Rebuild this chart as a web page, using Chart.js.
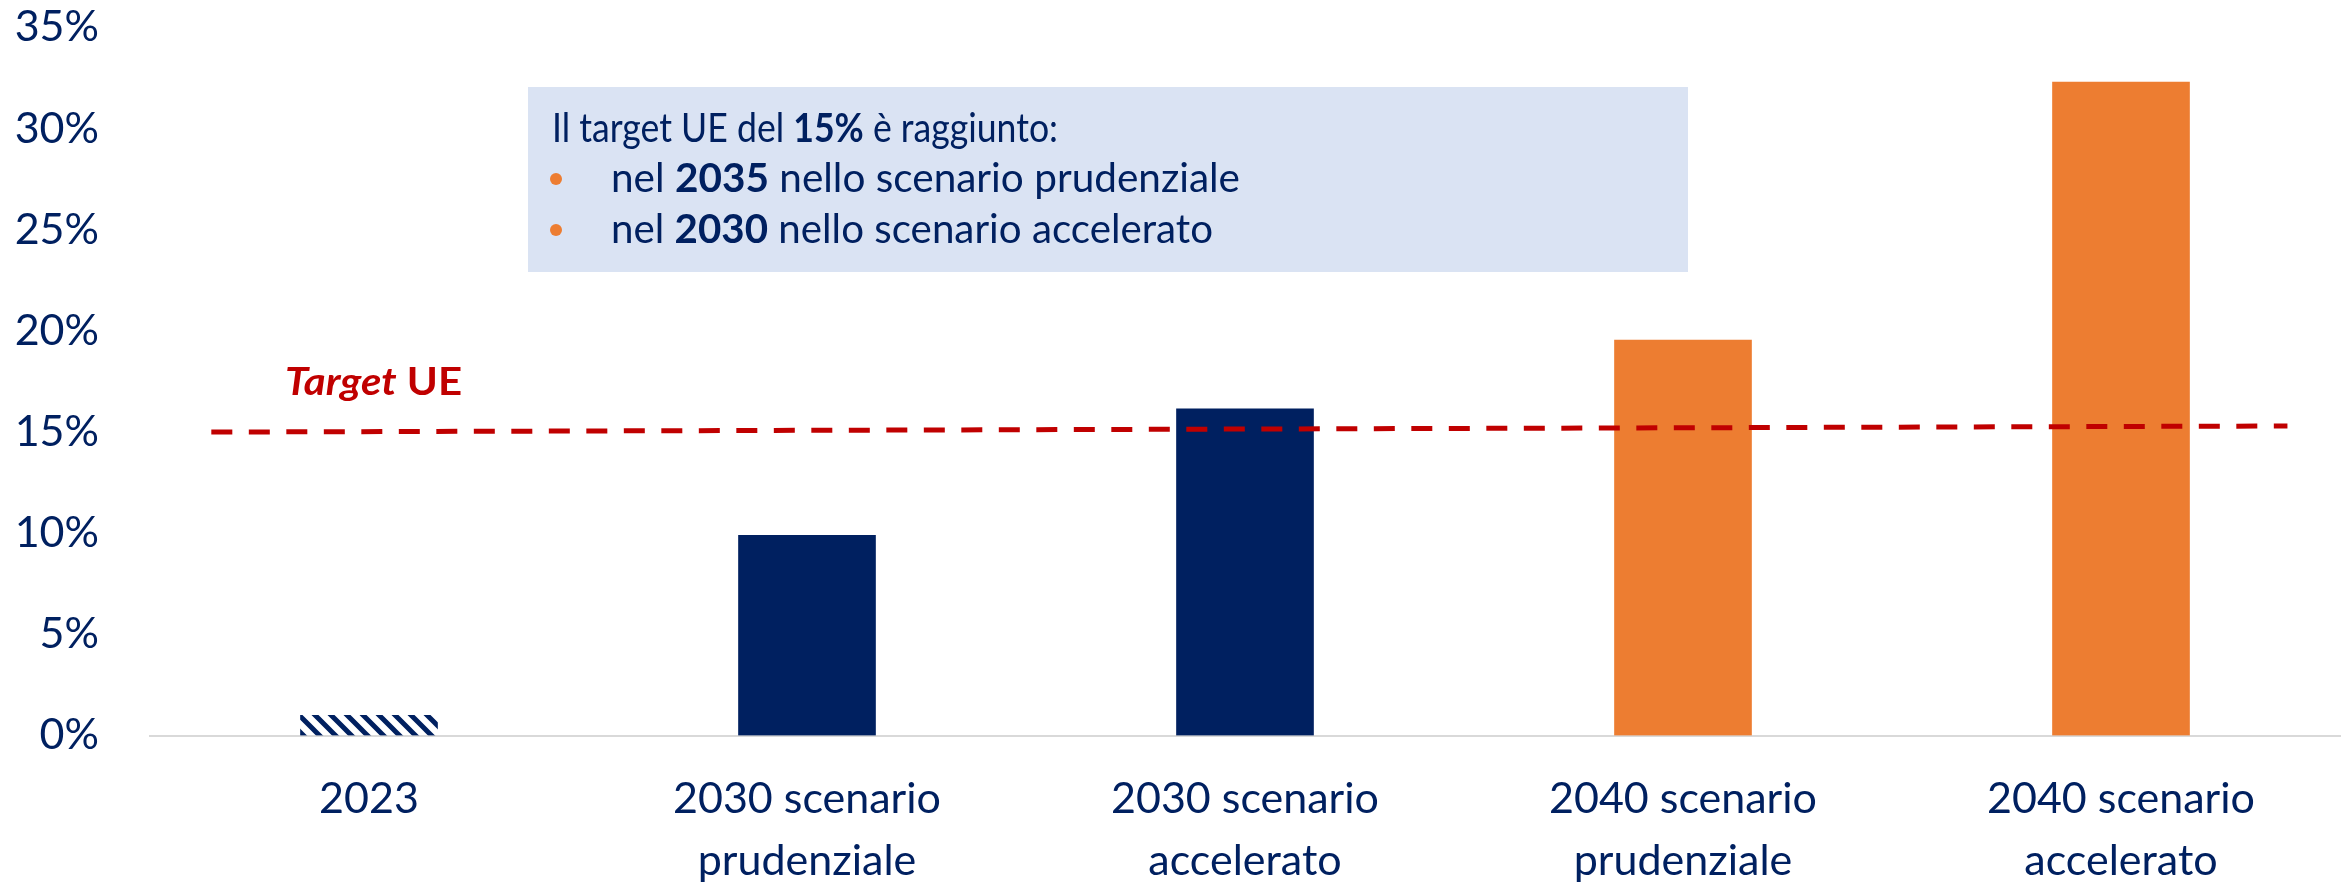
<!DOCTYPE html>
<html>
<head>
<meta charset="utf-8">
<script src="https://cdn.jsdelivr.net/npm/chart.js@4.4.1/dist/chart.umd.min.js"></script>
<style>
  body { margin: 0; background: #fff; }
  canvas { display: block; }
</style>
</head>
<body>
<canvas id="myChart" width="2346" height="885"></canvas>
<script>
// categories and values
const categories = [
  ['2023'],
  ['2030 scenario', 'prudenziale'],
  ['2030 scenario', 'accelerato'],
  ['2040 scenario', 'prudenziale'],
  ['2040 scenario', 'accelerato']
];
const shareValues = [1.0, 9.9, 16.15, 19.55, 32.3];
const barColors = ['hatch', '#002060', '#002060', '#ED7D31', '#ED7D31'];

// dashed EU target line (x in category units)
const targetPos = [-0.36, 4.38];
const targetValues = [15.0, 15.3];

const navy = '#002060';
const red = '#C00000';
const orange = '#ED7D31';
const fontFamily = 'Lato, "Open Sans", sans-serif';

function makeHatch(ctx) {
  const c = document.createElement('canvas');
  c.width = 16; c.height = 16;
  const g = c.getContext('2d');
  g.strokeStyle = navy;
  g.lineWidth = 5;
  g.beginPath();
  for (let k = -16; k <= 16; k += 16) {
    g.moveTo(k - 4, -4);
    g.lineTo(k + 20, 20);
  }
  g.stroke();
  return ctx.createPattern(c, 'repeat');
}

function runFont(r, size) {
  return (r.italic ? 'italic ' : '') + (r.bold ? 'bold ' : '') + size + 'px ' + fontFamily;
}

// draw a line made of plain / bold / italic pieces, squeezed to a given width
function drawRuns(ctx, runs, x, y, size, width) {
  let total = 0;
  runs.forEach(r => {
    ctx.font = runFont(r, size);
    total += ctx.measureText(r.text).width;
  });
  const sx = width ? width / total : 1;
  ctx.save();
  ctx.translate(x, y);
  ctx.scale(sx, 1);
  let cx = 0;
  runs.forEach(r => {
    ctx.font = runFont(r, size);
    ctx.fillText(r.text, cx, 0);
    cx += ctx.measureText(r.text).width;
  });
  ctx.restore();
}

const notePlugin = {
  id: 'notes',
  afterDraw(chart) {
    const ctx = chart.ctx;
    const yScale = chart.scales.y;
    ctx.save();
    ctx.textBaseline = 'alphabetic';
    ctx.textAlign = 'left';

    // text box
    ctx.fillStyle = '#DAE3F3';
    ctx.fillRect(528, 87, 1160, 185);
    ctx.fillStyle = navy;
    drawRuns(ctx, [{text: 'Il target UE del '}, {text: '15%', bold: true}, {text: ' è raggiunto:'}], 552, 142, 40, 506);
    drawRuns(ctx, [{text: 'nel '}, {text: '2035', bold: true}, {text: ' nello scenario prudenziale'}], 611, 192, 40, 629);
    drawRuns(ctx, [{text: 'nel '}, {text: '2030', bold: true}, {text: ' nello scenario accelerato'}], 611, 243, 40, 602);
    ctx.fillStyle = orange;
    [179, 230].forEach(by => {
      ctx.beginPath();
      ctx.arc(556, by, 6, 0, Math.PI * 2);
      ctx.fill();
    });

    // target label
    ctx.fillStyle = red;
    const ty = yScale.getPixelForValue(targetValues[0]) - 37;
    drawRuns(ctx, [{text: 'Target', bold: true, italic: true}, {text: ' UE', bold: true}], 285, ty, 39, 177);
    ctx.restore();
  }
};

const canvas = document.getElementById('myChart');
const ctx = canvas.getContext('2d');
const hatch = makeHatch(ctx);

const myChart = new Chart(ctx, {
  data: {
    labels: categories,
    datasets: [{
      type: 'line',
      label: 'Target UE',
      xAxisID: 'xt',
      data: targetPos.map((x, i) => ({x: x, y: targetValues[i]})),
      borderColor: red,
      borderWidth: 5,
      borderDash: [21, 16.5],
      pointRadius: 0,
      fill: false,
      order: 0
    }, {
      type: 'bar',
      label: 'Quota',
      data: shareValues,
      backgroundColor: barColors.map(c => c === 'hatch' ? hatch : c),
      borderWidth: 0,
      barThickness: 137,
      grouped: false,
      order: 1
    }]
  },
  options: {
    responsive: false,
    devicePixelRatio: 1,
    animation: false,
    layout: { padding: { left: 10, right: 6, top: 0, bottom: 0 } },
    plugins: { legend: { display: false }, tooltip: { enabled: false } },
    scales: {
      x: {
        type: 'category',
        grid: { display: false },
        border: { display: true, color: '#D9D9D9', width: 2 },
        ticks: {
          color: navy,
          font: { family: fontFamily, size: 43, lineHeight: 1.44 },
          padding: 25,
          maxRotation: 0,
          autoSkip: false
        },
        afterFit: s => { s.height = 149.5; }
      },
      xt: {
        type: 'linear',
        display: false,
        min: -0.5,
        max: 4.5
      },
      y: {
        min: 0,
        max: 35,
        grid: { display: false },
        border: { display: false },
        ticks: {
          stepSize: 5,
          color: navy,
          font: { family: fontFamily, size: 43, lineHeight: 1.2 },
          padding: 43,
          callback: v => v + '%'
        },
        afterFit: s => {
          s.width = 140;
          s.paddingTop = 27.5;
          s.paddingBottom = 0;
        }
      }
    }
  },
  plugins: [notePlugin]
});
</script>
</body>
</html>
